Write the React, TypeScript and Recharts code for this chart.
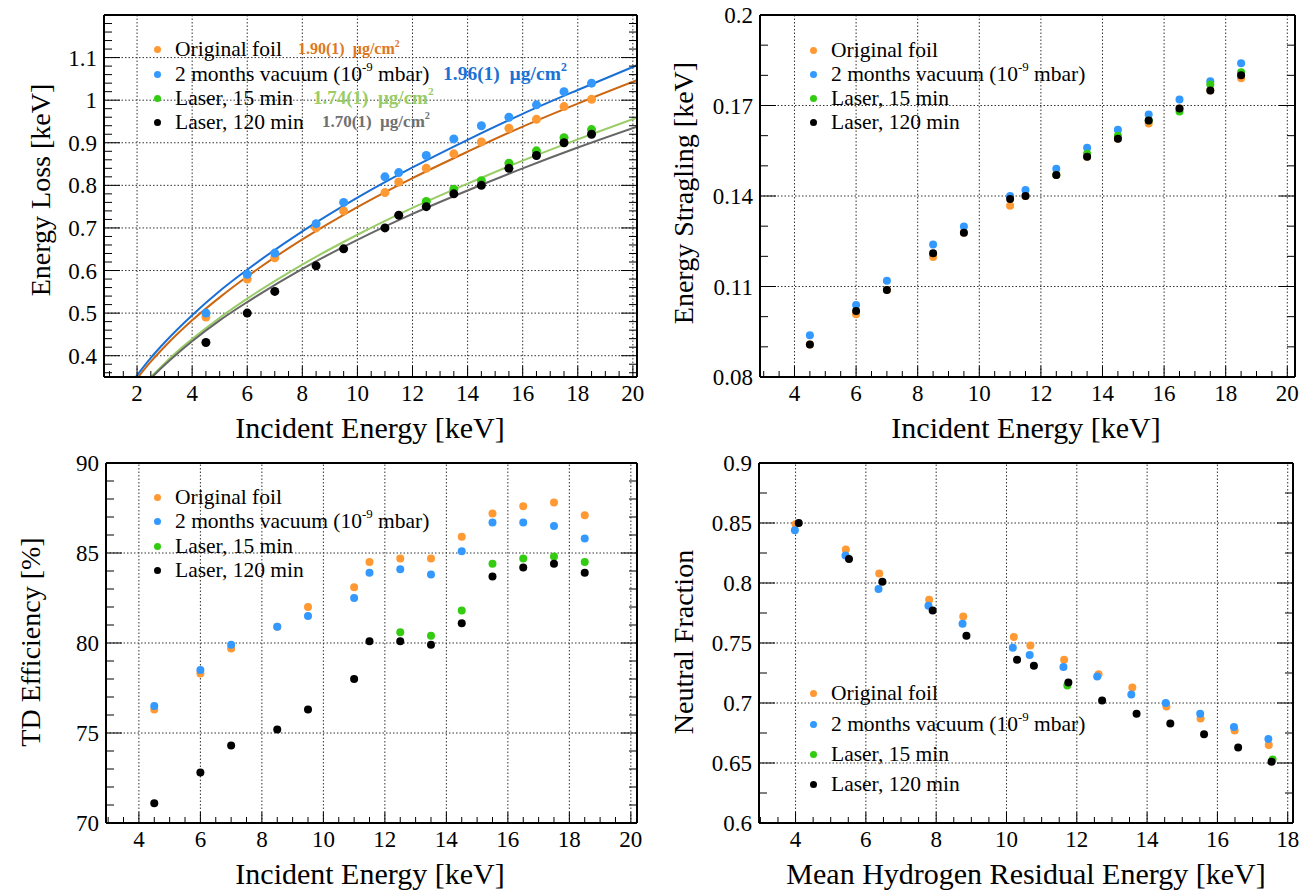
import React from "react";
import { ComposedChart, Scatter, Line, XAxis, YAxis, ReferenceLine } from "recharts";

const FONT = "'Liberation Serif', 'Times New Roman', serif";

const ORANGE = "#ff9933";
const BLUE = "#3399ff";
const GREEN = "#33cc11";
const BLACK = "#000000";

// incident energies [keV]
const energies = [4.5, 6, 7, 8.5, 9.5, 11, 11.5, 12.5, 13.5, 14.5, 15.5, 16.5, 17.5, 18.5];
const energiesLaser15 = [12.5, 13.5, 14.5, 15.5, 16.5, 17.5, 18.5];

// energy loss [keV]
const lossOriginal = [0.491, 0.58, 0.63, 0.7, 0.74, 0.783, 0.808, 0.84, 0.874, 0.902, 0.934, 0.955, 0.985, 1.002];
const lossVacuum = [0.5, 0.591, 0.641, 0.71, 0.76, 0.82, 0.83, 0.87, 0.909, 0.94, 0.96, 0.989, 1.02, 1.04];
const lossLaser15 = [0.762, 0.791, 0.811, 0.852, 0.881, 0.912, 0.931];
const lossLaser120 = [0.431, 0.5, 0.551, 0.611, 0.651, 0.7, 0.73, 0.75, 0.78, 0.8, 0.84, 0.87, 0.9, 0.92];

// fit curves
const fitVacuumE = [1.95, 2.5, 3, 4, 5, 6, 8, 10, 12, 14, 16, 18, 20.15];
const fitVacuum = [0.35, 0.395, 0.431, 0.495, 0.552, 0.602, 0.692, 0.771, 0.842, 0.907, 0.968, 1.024, 1.082];
const fitOriginalE = [2.04, 2.5, 3, 4, 5, 6, 8, 10, 12, 14, 16, 18, 20.15];
const fitOriginal = [0.35, 0.386, 0.421, 0.483, 0.537, 0.586, 0.673, 0.749, 0.817, 0.879, 0.938, 0.992, 1.047];
const fitLaser15E = [2.5, 3, 3.5, 4, 5, 6, 8, 10, 12, 14, 16, 18, 20.15];
const fitLaser15 = [0.35, 0.382, 0.412, 0.439, 0.489, 0.534, 0.614, 0.684, 0.747, 0.804, 0.858, 0.908, 0.959];
const fitLaser120E = [2.55, 3, 3.5, 4, 5, 6, 8, 10, 12, 14, 16, 18, 20.15];
const fitLaser120 = [0.35, 0.378, 0.407, 0.434, 0.483, 0.526, 0.604, 0.672, 0.733, 0.788, 0.84, 0.889, 0.938];

// energy straggling [keV]
const stragOriginal = [0.0908, 0.1008, 0.1088, 0.1198, 0.1278, 0.1368, 0.14, 0.147, 0.153, 0.159, 0.164, 0.169, 0.175, 0.179];
const stragVacuum = [0.0938, 0.1039, 0.1119, 0.1239, 0.1299, 0.14, 0.142, 0.149, 0.156, 0.162, 0.167, 0.172, 0.178, 0.184];
const stragLaser15 = [0.147, 0.154, 0.16, 0.165, 0.168, 0.177, 0.181];
const stragLaser120 = [0.0908, 0.1019, 0.1088, 0.121, 0.1278, 0.139, 0.14, 0.147, 0.153, 0.159, 0.165, 0.169, 0.175, 0.18];

// TD efficiency [%]
const effOriginal = [76.3, 78.3, 79.7, 80.9, 82.0, 83.1, 84.5, 84.7, 84.7, 85.9, 87.2, 87.6, 87.8, 87.1];
const effVacuum = [76.5, 78.5, 79.9, 80.9, 81.5, 82.5, 83.9, 84.1, 83.8, 85.1, 86.7, 86.7, 86.5, 85.8];
const effLaser15 = [80.6, 80.4, 81.8, 84.4, 84.7, 84.8, 84.5];
const effLaser120 = [71.1, 72.8, 74.3, 75.2, 76.3, 78.0, 80.1, 80.1, 79.9, 81.1, 83.7, 84.2, 84.4, 83.9];

// neutral fraction vs mean residual energy
const nfOriginalE = [4.0, 5.43, 6.38, 7.8, 8.77, 10.21, 10.68, 11.64, 12.62, 13.58, 14.55, 15.52, 16.49, 17.46];
const nfOriginal = [0.849, 0.828, 0.808, 0.786, 0.772, 0.755, 0.748, 0.736, 0.724, 0.713, 0.697, 0.687, 0.677, 0.665];
const nfVacuumE = [3.98, 5.42, 6.36, 7.78, 8.75, 10.18, 10.66, 11.62, 12.58, 13.55, 14.53, 15.51, 16.47, 17.45];
const nfVacuum = [0.844, 0.823, 0.795, 0.781, 0.766, 0.746, 0.74, 0.73, 0.722, 0.707, 0.7, 0.691, 0.68, 0.67];
const nfLaser15E = [11.73, 17.57];
const nfLaser15 = [0.7145, 0.653];
const nfLaser120E = [4.09, 5.52, 6.47, 7.9, 8.86, 10.3, 10.78, 11.76, 12.72, 13.7, 14.66, 15.62, 16.59, 17.54];
const nfLaser120 = [0.85, 0.82, 0.801, 0.777, 0.756, 0.736, 0.731, 0.717, 0.702, 0.691, 0.683, 0.674, 0.663, 0.651];

const pts = (xs: number[], ys: number[]) => xs.map((x, i) => ({ x, y: ys[i] }));

const steps = (a: number, b: number, d: number) => {
  const out: number[] = [];
  for (let v = a; v <= b + 1e-9; v += d) out.push(+v.toFixed(4));
  return out;
};

const near = (arr: number[], v: number) => arr.some((m) => Math.abs(m - v) < 1e-6);

type Pt = { x: number; y: number };
type Series = { data: Pt[]; color: string };

type PanelProps = {
  box: { left: number; top: number; w: number; h: number };
  plot: { l: number; r: number; t: number; b: number };
  xDomain: [number, number];
  xMajor: number[];
  xTicks: number[];
  yDomain: [number, number];
  yMajor: number[];
  yTicks: number[];
  scatters: Series[];
  fits?: Series[];
  dot?: number;
};

function Panel(p: PanelProps) {
  const { box, plot } = p;
  // axes are 1px thick, so the margins leave room for them
  const margin = {
    left: plot.l - box.left - 1,
    right: box.left + box.w - plot.r - 1,
    top: plot.t - box.top - 1,
    bottom: box.top + box.h - plot.b - 1,
  };
  const r = p.dot ?? 4;

  const bottomTick = (t: any) => {
    const major = near(p.xMajor, t.payload.value);
    return (
      <g>
        <line x1={t.x} x2={t.x} y1={t.y} y2={t.y - (major ? 11 : 6)} stroke="#000" strokeWidth={1} />
        {major && (
          <text x={t.x} y={t.y + 24} textAnchor="middle" fontSize={23} fontFamily={FONT} fill="#000">
            {t.payload.value}
          </text>
        )}
      </g>
    );
  };
  const topTick = (t: any) => {
    const major = near(p.xMajor, t.payload.value);
    return <line x1={t.x} x2={t.x} y1={t.y} y2={t.y + (major ? 11 : 6)} stroke="#000" strokeWidth={1} />;
  };
  const leftTick = (t: any) => {
    const major = near(p.yMajor, t.payload.value);
    return (
      <g>
        <line x1={t.x} x2={t.x + (major ? 16 : 8)} y1={t.y} y2={t.y} stroke="#000" strokeWidth={1} />
        {major && (
          <text x={t.x - 7} y={t.y + 8} textAnchor="end" fontSize={23} fontFamily={FONT} fill="#000">
            {t.payload.value}
          </text>
        )}
      </g>
    );
  };
  const rightTick = (t: any) => {
    const major = near(p.yMajor, t.payload.value);
    return <line x1={t.x} x2={t.x - (major ? 16 : 8)} y1={t.y} y2={t.y} stroke="#000" strokeWidth={1} />;
  };

  const frame = { stroke: "#000", strokeWidth: 2 };
  const grid = { stroke: "#333", strokeDasharray: "1.5 2", strokeWidth: 1 };

  return (
    <div style={{ position: "absolute", left: box.left, top: box.top }}>
      <ComposedChart width={box.w} height={box.h} margin={margin}>
        {p.xMajor.map((v) => (
          <ReferenceLine key={"gx" + v} x={v} xAxisId="b" yAxisId="l" {...grid} />
        ))}
        {p.yMajor.map((v) => (
          <ReferenceLine key={"gy" + v} y={v} xAxisId="b" yAxisId="l" {...grid} />
        ))}
        <XAxis xAxisId="b" type="number" dataKey="x" domain={p.xDomain} allowDataOverflow ticks={p.xTicks}
          interval={0} height={1} tickSize={0} tickMargin={0} tickLine={false} axisLine={frame} tick={bottomTick} />
        <XAxis xAxisId="t" orientation="top" type="number" domain={p.xDomain} allowDataOverflow ticks={p.xTicks}
          interval={0} height={1} tickSize={0} tickMargin={0} tickLine={false} axisLine={frame} tick={topTick} />
        <YAxis yAxisId="l" type="number" dataKey="y" domain={p.yDomain} allowDataOverflow ticks={p.yTicks}
          interval={0} width={1} tickSize={0} tickMargin={0} tickLine={false} axisLine={frame} tick={leftTick} />
        <YAxis yAxisId="r" orientation="right" type="number" domain={p.yDomain} allowDataOverflow ticks={p.yTicks}
          interval={0} width={1} tickSize={0} tickMargin={0} tickLine={false} axisLine={frame} tick={rightTick} />
        {p.scatters.map((s, i) => (
          <Scatter key={"s" + i} data={s.data} xAxisId="b" yAxisId="l" isAnimationActive={false}
            shape={(q: any) => <circle cx={q.cx} cy={q.cy} r={r} fill={s.color} />} />
        ))}
        {(p.fits || []).map((f, i) => (
          <Line key={"f" + i} data={f.data} dataKey="y" xAxisId="b" yAxisId="l" type="monotone" dot={false}
            stroke={f.color} strokeWidth={2} isAnimationActive={false} />
        ))}
      </ComposedChart>
    </div>
  );
}

type Row = { color: string; label: React.ReactNode; extra?: React.ReactNode; extraColor?: string; extraX?: number; extraSize?: number };

function Legend({ x, textX, ys, rows }: { x: number; textX: number; ys: number[]; rows: Row[] }) {
  return (
    <>
      {rows.map((row, i) => (
        <React.Fragment key={i}>
          <div style={{ position: "absolute", left: x - 3.5, top: ys[i] - 3.5, width: 7, height: 7, borderRadius: "50%", background: row.color }} />
          <div style={{ position: "absolute", left: textX, top: ys[i] - 13, height: 26, lineHeight: "26px", fontSize: 21.5, whiteSpace: "pre" }}>
            {row.label}
          </div>
          {row.extra && (
            <div style={{ position: "absolute", left: row.extraX, top: ys[i] - 13, height: 26, lineHeight: "26px", fontSize: row.extraSize, fontWeight: "bold", color: row.extraColor, whiteSpace: "pre" }}>
              {row.extra}
            </div>
          )}
        </React.Fragment>
      ))}
    </>
  );
}

const supStyle: React.CSSProperties = { fontSize: "0.6em", lineHeight: 0, verticalAlign: "baseline", position: "relative", top: "-0.75em" };

const vac = (
  <>
    2 months vacuum (10<span style={supStyle}>-9</span> mbar)
  </>
);
const ugcm = (v: string) => (
  <>
    {v + "  \u00b5g/cm"}
    <span style={supStyle}>2</span>
  </>
);

function XTitle({ cx, cy, text }: { cx: number; cy: number; text: string }) {
  return (
    <div style={{ position: "absolute", left: cx, top: cy, transform: "translate(-50%, -50%)", fontSize: 30, whiteSpace: "nowrap" }}>
      {text}
    </div>
  );
}
function YTitle({ cx, cy, text }: { cx: number; cy: number; text: string }) {
  return (
    <div style={{ position: "absolute", left: cx, top: cy, transform: "translate(-50%, -50%) rotate(-90deg)", fontSize: 28, whiteSpace: "nowrap" }}>
      {text}
    </div>
  );
}

export default function App() {
  const plainRows: Row[] = [
    { color: ORANGE, label: "Original foil" },
    { color: BLUE, label: vac },
    { color: GREEN, label: "Laser, 15 min" },
    { color: BLACK, label: "Laser, 120 min" },
  ];
  const lossRows: Row[] = [
    { color: ORANGE, label: "Original foil", extra: ugcm("1.90(1)"), extraColor: "#dd7722", extraX: 298, extraSize: 16 },
    { color: BLUE, label: vac, extra: ugcm("1.96(1)"), extraColor: "#1a72d4", extraX: 443, extraSize: 19.5 },
    { color: GREEN, label: "Laser, 15 min", extra: ugcm("1.74(1)"), extraColor: "#99cc66", extraX: 313, extraSize: 19 },
    { color: BLACK, label: "Laser, 120 min", extra: ugcm("1.70(1)"), extraColor: "#707070", extraX: 322, extraSize: 17 },
  ];

  return (
    <div style={{ position: "absolute", left: 0, top: 0, width: 1312, height: 890, background: "#fff", fontFamily: FONT, color: "#000" }}>
      <Panel
        box={{ left: 0, top: 0, w: 656, h: 445 }}
        plot={{ l: 104, r: 637, t: 15, b: 377 }}
        xDomain={[0.8, 20.15]}
        xMajor={[2, 4, 6, 8, 10, 12, 14, 16, 18, 20]}
        xTicks={steps(1, 20, 0.5)}
        yDomain={[0.35, 1.2]}
        yMajor={[0.4, 0.5, 0.6, 0.7, 0.8, 0.9, 1, 1.1]}
        yTicks={steps(0.36, 1.2, 0.02)}
        dot={4.5}
        scatters={[
          { data: pts(energies, lossOriginal), color: ORANGE },
          { data: pts(energies, lossVacuum), color: BLUE },
          { data: pts(energiesLaser15, lossLaser15), color: GREEN },
          { data: pts(energies, lossLaser120), color: BLACK },
        ]}
        fits={[
          { data: pts(fitOriginalE, fitOriginal), color: "#cc6611" },
          { data: pts(fitVacuumE, fitVacuum), color: "#1a6fd6" },
          { data: pts(fitLaser15E, fitLaser15), color: "#99cc66" },
          { data: pts(fitLaser120E, fitLaser120), color: "#666666" },
        ]}
      />
      <Panel
        box={{ left: 656, top: 0, w: 656, h: 445 }}
        plot={{ l: 760, r: 1295, t: 15, b: 377 }}
        xDomain={[2.88, 20.25]}
        xMajor={[4, 6, 8, 10, 12, 14, 16, 18, 20]}
        xTicks={steps(3, 20, 0.5)}
        yDomain={[0.08, 0.2]}
        yMajor={[0.08, 0.11, 0.14, 0.17, 0.2]}
        yTicks={steps(0.08, 0.2, 0.01)}
        scatters={[
          { data: pts(energies, stragOriginal), color: ORANGE },
          { data: pts(energies, stragVacuum), color: BLUE },
          { data: pts(energiesLaser15, stragLaser15), color: GREEN },
          { data: pts(energies, stragLaser120), color: BLACK },
        ]}
      />
      <Panel
        box={{ left: 0, top: 445, w: 656, h: 445 }}
        plot={{ l: 106, r: 637, t: 463, b: 823 }}
        xDomain={[2.93, 20.2]}
        xMajor={[4, 6, 8, 10, 12, 14, 16, 18, 20]}
        xTicks={steps(3, 20, 0.5)}
        yDomain={[70, 90]}
        yMajor={[70, 75, 80, 85, 90]}
        yTicks={steps(70, 90, 1)}
        scatters={[
          { data: pts(energies, effOriginal), color: ORANGE },
          { data: pts(energies, effVacuum), color: BLUE },
          { data: pts(energiesLaser15, effLaser15), color: GREEN },
          { data: pts(energies, effLaser120), color: BLACK },
        ]}
      />
      <Panel
        box={{ left: 656, top: 445, w: 656, h: 445 }}
        plot={{ l: 759, r: 1293, t: 463, b: 823 }}
        xDomain={[2.96, 18.15]}
        xMajor={[4, 6, 8, 10, 12, 14, 16, 18]}
        xTicks={steps(3, 18, 0.5)}
        yDomain={[0.6, 0.9]}
        yMajor={[0.6, 0.65, 0.7, 0.75, 0.8, 0.85, 0.9]}
        yTicks={steps(0.6, 0.9, 0.025)}
        scatters={[
          { data: pts(nfOriginalE, nfOriginal), color: ORANGE },
          { data: pts(nfVacuumE, nfVacuum), color: BLUE },
          { data: pts(nfLaser15E, nfLaser15), color: GREEN },
          { data: pts(nfLaser120E, nfLaser120), color: BLACK },
        ]}
      />

      <Legend x={157} textX={175} ys={[49, 74, 98, 122]} rows={lossRows} />
      <Legend x={813} textX={831} ys={[50, 74, 98, 122]} rows={plainRows} />
      <Legend x={157} textX={175} ys={[497, 521, 546, 570]} rows={plainRows} />
      <Legend x={813} textX={831} ys={[693, 724, 754, 784]} rows={plainRows} />

      <XTitle cx={370} cy={428} text="Incident Energy [keV]" />
      <XTitle cx={1026} cy={428} text="Incident Energy [keV]" />
      <XTitle cx={370} cy={874} text="Incident Energy [keV]" />
      <XTitle cx={1026} cy={874} text="Mean Hydrogen Residual Energy [keV]" />
      <YTitle cx={41} cy={190} text="Energy Loss [keV]" />
      <YTitle cx={684} cy={193} text="Energy Stragling [keV]" />
      <YTitle cx={31} cy={642} text="TD Efficiency [%]" />
      <YTitle cx={684} cy={642} text="Neutral Fraction" />
    </div>
  );
}
